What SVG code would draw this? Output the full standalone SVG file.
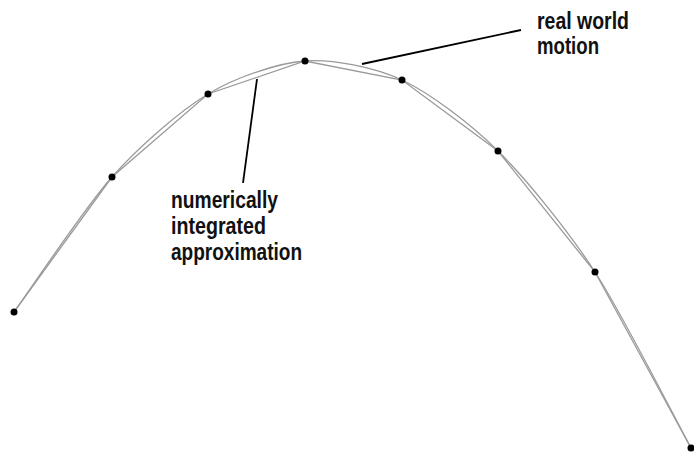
<svg xmlns="http://www.w3.org/2000/svg" width="694" height="470" viewBox="0 0 694 470">
<style>
.curve{fill:none;stroke:#9a9a9a;stroke-width:1.3}
.leader{fill:none;stroke:#000;stroke-width:1.8}
.pt{fill:#000}
.lbl{font-family:"Liberation Sans",Arial,sans-serif;font-weight:bold;font-size:23px;fill:#111}
</style>
<rect width="694" height="470" fill="#fff"/>
<g id="connectors">
<path id="real-motion" class="curve" d="M14,312 C28,292.7 84.3,208.1 112,177 C139.7,145.9 180.4,110.6 208,94 C235.6,77.4 277.3,63 305,61 C332.7,59 374.4,67.1 402,80 C429.6,92.9 470.4,123.6 498,151 C525.6,178.4 567.4,229.6 595,272 C622.6,314.4 677.3,422.9 691,448"/>
<polyline id="approximation" class="curve" points="14,312 112,177 208,94 305,61 402,80 498,151 595,272 691,448"/>
<line class="leader" x1="257" y1="79" x2="243" y2="183"/>
<line class="leader" x1="362" y1="64" x2="521" y2="30"/>
</g>
<g id="points">
<circle class="pt" cx="14" cy="312" r="3.5"/>
<circle class="pt" cx="112" cy="177" r="3.5"/>
<circle class="pt" cx="208" cy="94" r="3.5"/>
<circle class="pt" cx="305" cy="61" r="3.5"/>
<circle class="pt" cx="402" cy="80" r="3.5"/>
<circle class="pt" cx="498" cy="151" r="3.5"/>
<circle class="pt" cx="595" cy="272" r="3.5"/>
<circle class="pt" cx="691" cy="448" r="3.5"/>
</g>
<g id="label-real">
<text class="lbl" x="537" y="29" textLength="92" lengthAdjust="spacingAndGlyphs">real world</text>
<text class="lbl" x="537" y="54" textLength="62" lengthAdjust="spacingAndGlyphs">motion</text>
</g>
<g id="label-approx">
<text class="lbl" x="171" y="208" textLength="107" lengthAdjust="spacingAndGlyphs">numerically</text>
<text class="lbl" x="171" y="234" textLength="95" lengthAdjust="spacingAndGlyphs">integrated</text>
<text class="lbl" x="171" y="260" textLength="131" lengthAdjust="spacingAndGlyphs">approximation</text>
</g>
</svg>
